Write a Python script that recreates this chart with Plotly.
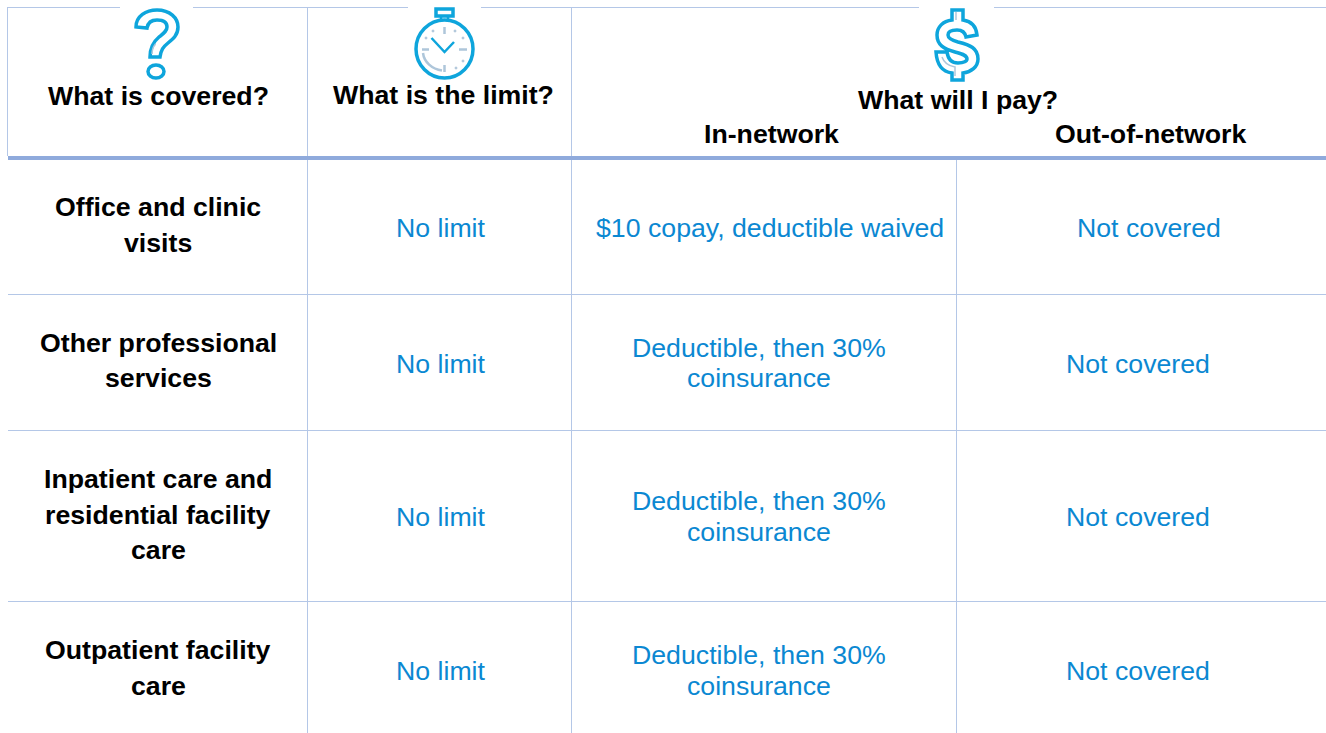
import plotly.graph_objects as go

W, H = 1326, 733
TEXT_FONT = "Liberation Sans"
BLUE = "#0b88d2"
ICON = "#0ea5dc"
PALE = "#aec6da"
THIN = "#b4c7e7"
THICK = "#8faadc"
SIZE = 26.7

col_heads = ["What is covered?", "What is the limit?", "What will I pay?"]
sub_heads = ["In-network", "Out-of-network"]
rows = [["Office and clinic", "visits"], ["Other professional", "services"],
        ["Inpatient care and", "residential facility", "care"], ["Outpatient facility", "care"]]
limits = ["No limit"] * 4
in_net = [["$10 copay, deductible waived"], ["Deductible, then 30%", "coinsurance"],
          ["Deductible, then 30%", "coinsurance"], ["Deductible, then 30%", "coinsurance"]]
out_net = ["Not covered"] * 4

fig = go.Figure()
shapes = []
ann = []

def line(x0, y0, x1, y1, c=THIN, w=1):
    shapes.append(dict(type="line", x0=x0, y0=y0, x1=x1, y1=y1, xref="x", yref="y",
                       line=dict(color=c, width=w), layer="below"))

def text(x, y, s, color, bold=False):
    t = f"<b>{s}</b>" if bold else s
    ann.append(dict(x=x, y=y, xref="x", yref="y", text=t, showarrow=False, xanchor="center",
                    yanchor="middle", align="center",
                    font=dict(family=TEXT_FONT, size=SIZE, color=color)))

def path(d, c=ICON, w=3.5, fill=None):
    shapes.append(dict(type="path", path=d, xref="x", yref="y",
                       line=dict(color=c, width=w),
                       fillcolor=fill if fill else "rgba(0,0,0,0)"))

def ring(x0, y0, x1, y1, c=ICON, w=3.5, fill=None):
    shapes.append(dict(type="circle", x0=x0, y0=y0, x1=x1, y1=y1, xref="x", yref="y",
                       line=dict(color=c, width=w),
                       fillcolor=fill if fill else "rgba(0,0,0,0)"))

# top rule with gaps behind icons
for a, b in [(8, 120), (193, 408), (481, 919), (994, 1326)]:
    line(a, 7.5, b, 7.5)
# verticals
line(7.5, 7, 7.5, 156)
line(307.5, 7, 307.5, 733)
line(571.5, 7, 571.5, 733)
line(956.5, 160, 956.5, 733)
# row rules
for y in (294.5, 430.5, 601.5):
    line(8, y, 1326, y)
line(8, 158, 1326, 158, THICK, 4)

# question-mark icon
path("M 136 27 C 136 16 146 10 157 10 C 170 10 178 18 178 27 C 178 35 173 39 168 43 "
     "C 163 47 161 50 160 57 L 150 57 C 150 48 153 42 159 37 C 164 33 167 31 167 27 "
     "C 167 22 163 20 157 20 C 152 20 148 22 147 28 Z")
ring(148, 65, 164, 78)
path("M 155.5 44 C 153 47 152 50 152 54", PALE, 1.5)

# stopwatch icon
ring(416, 20, 473, 78)
shapes.append(dict(type="rect", x0=436, y0=9, x1=453, y1=16, xref="x", yref="y",
                   line=dict(color=ICON, width=3.5)))
path("M 441 16 L 441 21 M 448 16 L 448 21", ICON, 2.5)
path("M 431.5 38 L 444.5 52 L 454 42", ICON, 2.5)
for d in ["M 444.5 27 L 444.5 34", "M 444.5 65 L 444.5 72",
          "M 422 49.5 L 429 49.5", "M 459 49.5 L 467 49.5",
          "M 423 53 C 424 62 432 69 442 70.5"]:
    path(d, PALE, 2.5)
dot_x = [433, 455, 426, 463, 463, 456]
dot_y = [31, 31, 38, 38, 61, 68]
for x, y in zip(dot_x, dot_y):
    ring(x - 1, y - 1, x + 1, y + 1, PALE, 1, PALE)

# dollar icon
path("M 952 10 L 963 10 L 963 20 C 970 21 976 25 977 35 L 966 37 C 965 32 962 30 957 30 "
     "C 951 30 948 32 948 35 C 948 38 951 40 958 42 C 970 45 978 48 978 59 "
     "C 978 67 971 72 963 73 L 963 80 L 952 80 L 952 73 C 944 72 937 67 936 52 "
     "L 947 52 C 948 59 952 63 958 63 C 964 63 967 61 967 59 "
     "C 967 55 962 54 955 52 C 944 49 937 45 937 35 C 937 27 943 21 952 20 Z")
path("M 942 57 C 944 63 949 66 955 67 L 955 76", PALE, 1.5)
path("M 956 12 L 956 20", PALE, 1.5)

# headers
text(158, 96, col_heads[0], "#000", True)
text(443, 95, col_heads[1], "#000", True)
text(958, 100, col_heads[2], "#000", True)
text(771, 134, sub_heads[0], "#000", True)
text(1150, 134, sub_heads[1], "#000", True)

# body
row_line_y = [[207, 243], [343, 378], [479, 515, 550], [650, 686]]
in_line_y = [[228], [348, 378], [501, 532], [655, 686]]
body_y = [228, 364, 517, 671]
for i in range(4):
    for s, y in zip(rows[i], row_line_y[i]):
        text(158, y, s, "#000", True)
    text(440.5, body_y[i], limits[i], BLUE)
    for s, y in zip(in_net[i], in_line_y[i]):
        text(770 if i == 0 else 759, y, s, BLUE)
    text(1148.5 if i == 0 else 1138, body_y[i], out_net[i], BLUE)

fig.update_layout(
    width=W, height=H, margin=dict(l=0, r=0, t=0, b=0),
    paper_bgcolor="white", plot_bgcolor="white", showlegend=False,
    xaxis=dict(range=[0, W], visible=False, fixedrange=True),
    yaxis=dict(range=[H, 0], visible=False, fixedrange=True),
    shapes=shapes, annotations=ann,
)
fig.add_trace(go.Scatter(x=[0], y=[0], mode="markers", marker=dict(opacity=0), hoverinfo="skip"))
fig.write_html("out.html", config=dict(displayModeBar=False),
               post_script="document.body.style.margin='0';document.body.style.overflow='hidden';")
